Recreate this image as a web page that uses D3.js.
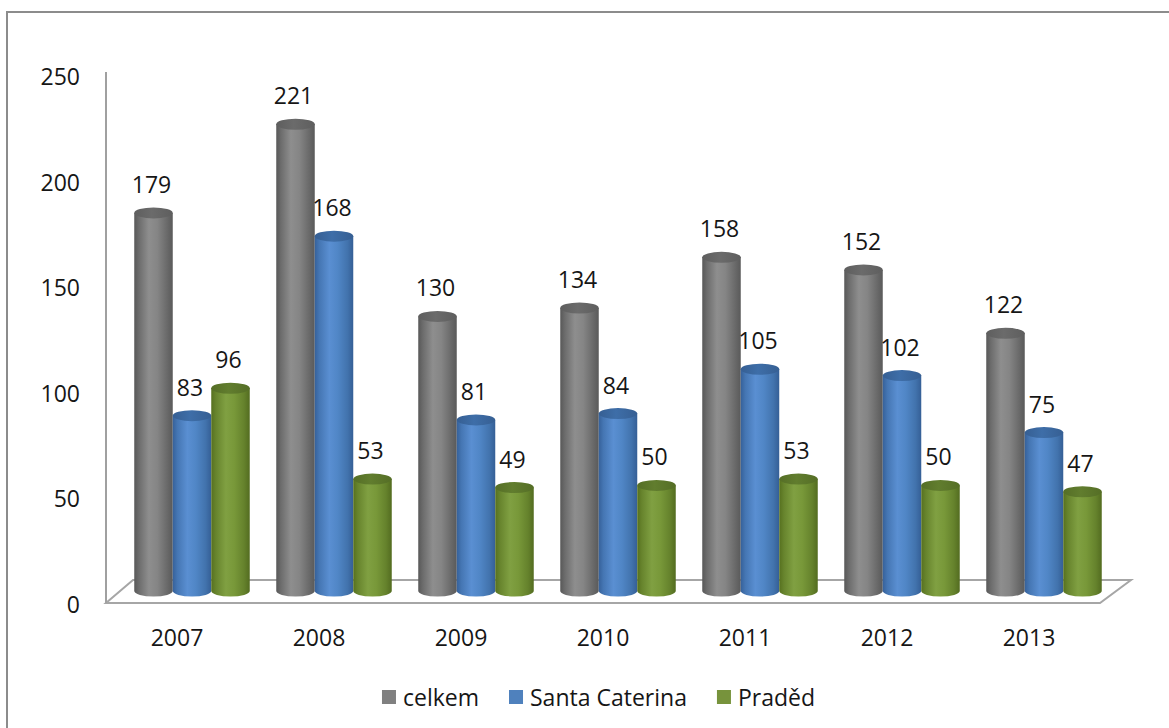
<!DOCTYPE html>
<html>
<head>
<meta charset="utf-8">
<script src="https://cdn.jsdelivr.net/npm/d3@7/dist/d3.min.js"></script>
<style>
  html, body { margin: 0; padding: 0; background: #ffffff; }
  svg { display: block; }
  text { font-family: "Open Sans", "Noto Sans", sans-serif; fill: #161616; }
</style>
</head>
<body>
<svg id="chart" width="1169" height="728"></svg>
<script>
// ---- data ----
const years = ["2007", "2008", "2009", "2010", "2011", "2012", "2013"];
const celkem = [179, 221, 130, 134, 158, 152, 122];
const santaCaterina = [83, 168, 81, 84, 105, 102, 75];
const praded = [96, 53, 49, 50, 53, 50, 47];
const seriesNames = ["celkem", "Santa Caterina", "Praděd"];
const yTicks = [0, 50, 100, 150, 200, 250];

// ---- styles ----
const palettes = [
  { body: ["#585858", "#6c6c6c", "#8e8e8e", "#858585", "#6a6a6a", "#5a5a5a"], top: "#6b6b6b", topEdge: "#5e5e5e", legend: "#808080" },
  { body: ["#36619a", "#4576b3", "#5a8fd2", "#5086c6", "#4273ad", "#355f96"], top: "#3e6ea8", topEdge: "#365f93", legend: "#4f81bd" },
  { body: ["#56701f", "#67842d", "#80a042", "#789839", "#65822c", "#536c20"], top: "#617d2e", topEdge: "#556e26", legend: "#77933c" }
];
const seriesData = [celkem, santaCaterina, praded];
const FS = 23;

const svg = d3.select("#chart");
const W = 1169, H = 728;

// outer border (extends beyond right and bottom of the picture)
svg.append("rect")
  .attr("x", 7).attr("y", 12)
  .attr("width", W + 20).attr("height", H + 20)
  .attr("fill", "none").attr("stroke", "#8c8c8c").attr("stroke-width", 2);

const x = d3.scaleBand().domain(years).range([106, 1100]).padding(0);
const y = d3.scaleLinear().domain([0, 250]).range([603, 75]);

const depthDx = 27, depthDy = -23;   // floor depth
const barDx = 15, barDy = -12;       // bar position inside the depth
const barW = 38.5;
const ry = 5.5;

// ---- floor ----
const x0 = x.range()[0], x1 = x.range()[1], yf = y(0);
svg.append("path")
  .attr("d", `M${x0},${yf} L${x1},${yf} L${x1 + depthDx + 4},${yf + depthDy} L${x0 + depthDx},${yf + depthDy} Z`)
  .attr("fill", "#ffffff").attr("stroke", "#a6a6a6").attr("stroke-width", 2)
  .attr("stroke-linejoin", "miter");

// y axis line
svg.append("line")
  .attr("x1", x0).attr("x2", x0)
  .attr("y1", y(250) - 3).attr("y2", yf)
  .attr("stroke", "#a0a0a0").attr("stroke-width", 2);

// y tick labels
svg.append("g").selectAll("text").data(yTicks).join("text")
  .attr("x", 80).attr("y", d => y(d) + 1)
  .attr("text-anchor", "end").attr("dominant-baseline", "central")
  .attr("font-size", FS)
  .text(d => d);

// x labels
svg.append("g").selectAll("text").data(years).join("text")
  .attr("x", d => x(d) + x.bandwidth() / 2)
  .attr("y", 637)
  .attr("text-anchor", "middle").attr("dominant-baseline", "central")
  .attr("font-size", FS)
  .text(d => d);

// ---- gradients ----
const defs = svg.append("defs");
palettes.forEach((p, i) => {
  const g = defs.append("linearGradient").attr("id", "body" + i)
    .attr("x1", "0%").attr("x2", "100%").attr("y1", "0%").attr("y2", "0%");
  const offs = [0, 0.12, 0.38, 0.6, 0.85, 1];
  p.body.forEach((c, k) => g.append("stop").attr("offset", offs[k]).attr("stop-color", c));
  const t = defs.append("linearGradient").attr("id", "top" + i)
    .attr("x1", "0%").attr("x2", "100%").attr("y1", "0%").attr("y2", "0%");
  t.append("stop").attr("offset", 0).attr("stop-color", p.topEdge);
  t.append("stop").attr("offset", 0.45).attr("stop-color", p.top);
  t.append("stop").attr("offset", 1).attr("stop-color", p.topEdge);
});

// ---- cylinders ----
const groupW = barW * 3;
const bars = [];
years.forEach((yr, j) => {
  seriesData.forEach((arr, i) => {
    const left = x(yr) + barDx + (x.bandwidth() - groupW) / 2 + i * barW;
    bars.push({ year: yr, s: i, v: arr[j], left });
  });
});

const gBars = svg.append("g");
bars.forEach(b => {
  const xl = b.left, xr = b.left + barW, rx = barW / 2, cx = xl + rx;
  const yb = y(0) + barDy, yt = y(b.v) + barDy;
  const g = gBars.append("g");
  g.append("path")
    .attr("d", `M${xl},${yt} L${xl},${yb} A${rx},${ry} 0 0 0 ${xr},${yb} L${xr},${yt} Z`)
    .attr("fill", `url(#body${b.s})`);
  g.append("ellipse")
    .attr("cx", cx).attr("cy", yt).attr("rx", rx).attr("ry", ry)
    .attr("fill", `url(#top${b.s})`);
  // data label
  svg.append("text")
    .attr("x", cx - 2).attr("y", yt - 29)
    .attr("text-anchor", "middle").attr("dominant-baseline", "central")
    .attr("font-size", FS)
    .text(b.v);
});

// ---- legend ----
const legend = svg.append("g");
const sq = 14, gapText = 7, gapItem = 30;
let cursor = 0;
seriesNames.forEach((n, i) => {
  const it = legend.append("g");
  it.append("rect").attr("x", 0).attr("y", -sq / 2).attr("width", sq).attr("height", sq)
    .attr("fill", palettes[i].legend);
  const t = it.append("text").attr("x", sq + gapText).attr("y", 0)
    .attr("dominant-baseline", "central").attr("font-size", FS).text(n);
  const w = sq + gapText + t.node().getComputedTextLength();
  it.attr("transform", `translate(${cursor},0)`);
  cursor += w + gapItem;
});
const totalW = cursor - gapItem;
legend.attr("transform", `translate(${598.5 - totalW / 2},697)`);
</script>
</body>
</html>
